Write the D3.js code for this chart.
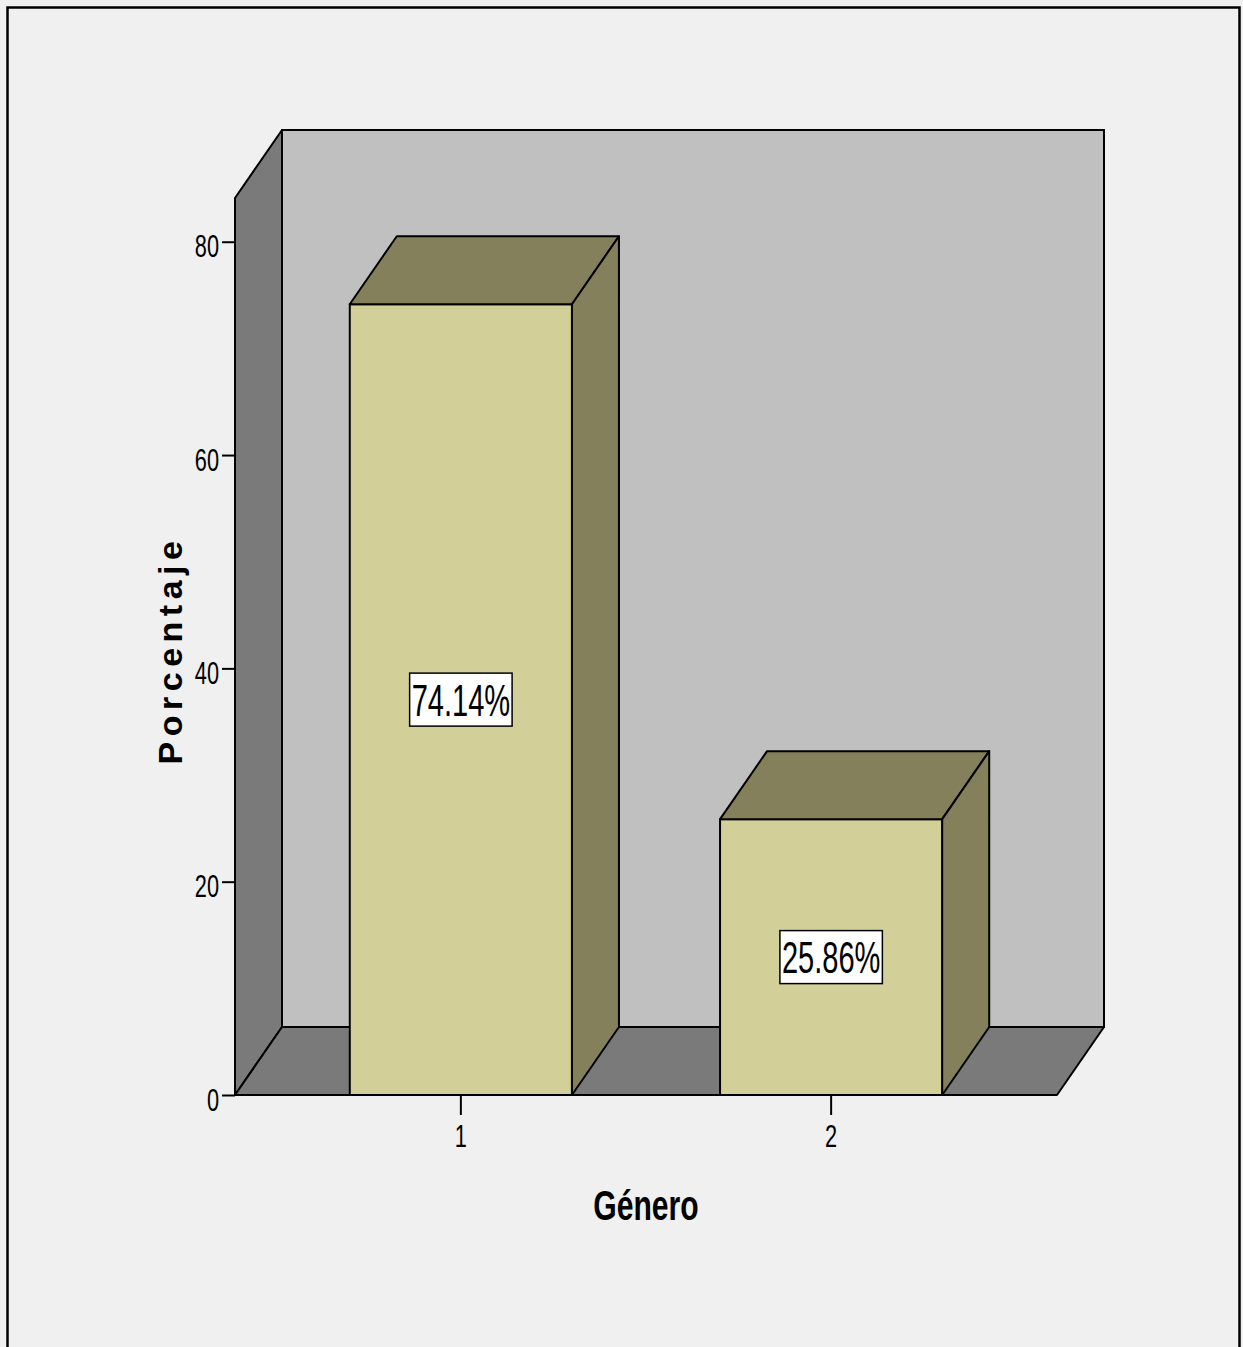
<!DOCTYPE html>
<html>
<head>
<meta charset="utf-8">
<script src="https://cdn.jsdelivr.net/npm/d3@7"></script>
<style>
  html, body { margin: 0; padding: 0; background: #f0f0f0; }
  svg { display: block; }
</style>
</head>
<body>
<svg id="chart"></svg>
<script>
// chart data
var categories = ["1", "2"];
var values = [74.14, 25.86];
var valueLabels = ["74.14%", "25.86%"];
var yTicks = [0, 20, 40, 60, 80];
var xTitle = "Género";
var yTitle = "Porcentaje";

var width = 1243, height = 1347;
var plotLeft = 235, plotRight = 1057, plotBottom = 1095, plotTop = 198;
var dx = 47, dy = 68; // 3d depth
var squeeze = 0.68;   // condensed look of the SPSS text
var narrow = "'Liberation Sans', Arial, sans-serif";

var svg = d3.select("#chart")
    .attr("width", width)
    .attr("height", height);

svg.append("rect")
    .attr("width", width).attr("height", height)
    .attr("fill", "#f0f0f0");

// outer frame (no bottom edge visible)
svg.append("path")
    .attr("d", "M7.5," + height + "V7.5H1239.5V" + height)
    .attr("fill", "none")
    .attr("stroke", "#000")
    .attr("stroke-width", 2.5);

var x = d3.scaleBand()
    .domain(categories)
    .range([plotLeft, plotRight])
    .paddingInner(0.4)
    .paddingOuter(0.31);

var y = d3.scaleLinear()
    .domain([0, 84.1])
    .range([plotBottom, plotTop]);

var y0 = y(0), yMax = y(84.1);

// walls
svg.append("rect")
    .attr("x", plotLeft + dx).attr("y", yMax - dy)
    .attr("width", plotRight - plotLeft).attr("height", y0 - yMax)
    .attr("fill", "#c0c0c0")
    .attr("stroke", "#000").attr("stroke-width", 2);

var poly = d3.line();

svg.append("path")
    .attr("d", poly([[plotLeft, y0], [plotLeft, yMax], [plotLeft + dx, yMax - dy], [plotLeft + dx, y0 - dy]]) + "Z")
    .attr("fill", "#7a7a7a")
    .attr("stroke", "#000").attr("stroke-width", 2).attr("stroke-linejoin", "round");

svg.append("path")
    .attr("d", poly([[plotLeft, y0], [plotLeft + dx, y0 - dy], [plotRight + dx, y0 - dy], [plotRight, y0]]) + "Z")
    .attr("fill", "#7a7a7a")
    .attr("stroke", "#000").attr("stroke-width", 2).attr("stroke-linejoin", "round");

// bars
var bw = x.bandwidth();
var bars = svg.append("g").selectAll("g")
    .data(values)
    .join("g");

bars.append("rect")
    .attr("x", (d, i) => x(categories[i]))
    .attr("y", d => y(d))
    .attr("width", bw)
    .attr("height", d => y0 - y(d))
    .attr("fill", "#d3cf98")
    .attr("stroke", "#000").attr("stroke-width", 2);

bars.append("path")
    .attr("d", (d, i) => {
        var bx = x(categories[i]), by = y(d);
        return poly([[bx, by], [bx + dx, by - dy], [bx + bw + dx, by - dy], [bx + bw, by]]) + "Z";
    })
    .attr("fill", "#85805c")
    .attr("stroke", "#000").attr("stroke-width", 2).attr("stroke-linejoin", "round");

bars.append("path")
    .attr("d", (d, i) => {
        var bx = x(categories[i]) + bw, by = y(d);
        return poly([[bx, by], [bx + dx, by - dy], [bx + dx, y0 - dy], [bx, y0]]) + "Z";
    })
    .attr("fill", "#85805c")
    .attr("stroke", "#000").attr("stroke-width", 2).attr("stroke-linejoin", "round");

// value labels
bars.each(function (d, i) {
    var g = d3.select(this);
    var cx = x(categories[i]) + bw / 2, cy = y(d / 2);
    var box = g.append("rect")
        .attr("fill", "#fff")
        .attr("stroke", "#000").attr("stroke-width", 1.5);
    var t = g.append("text")
        .attr("transform", "translate(" + cx + "," + (cy + 16) + ") scale(0.66,1)")
        .attr("text-anchor", "middle")
        .attr("font-family", narrow)
        .attr("font-size", 44)
        .attr("fill", "#000")
        .text(valueLabels[i]);
    var w = t.node().getBBox().width * 0.66 + 4;
    box.attr("x", cx - w / 2).attr("y", cy - 26.5)
        .attr("width", w).attr("height", 53);
});

// y axis
svg.append("g")
    .attr("transform", "translate(" + plotLeft + ",0)")
    .call(d3.axisLeft(y).tickValues(yTicks).tickSize(13).tickPadding(3).tickFormat(d3.format("d")))
    .call(g => g.select(".domain").remove())
    .call(g => g.selectAll(".tick line").attr("stroke", "#000").attr("stroke-width", 2))
    .call(g => g.selectAll(".tick text")
        .attr("x", 0).attr("dy", null)
        .attr("transform", "translate(-16,15) scale(" + squeeze + ",1)")
        .attr("font-family", narrow)
        .attr("font-size", 32)
        .attr("fill", "#000"));

// x axis
svg.append("g")
    .attr("transform", "translate(0," + y0 + ")")
    .call(d3.axisBottom(x).tickSize(20).tickPadding(0))
    .call(g => g.select(".domain").remove())
    .call(g => g.selectAll(".tick line").attr("stroke", "#000").attr("stroke-width", 2))
    .call(g => g.selectAll(".tick text")
        .attr("y", 0).attr("dy", null)
        .attr("transform", "translate(0,52) scale(" + squeeze + ",1)")
        .attr("font-family", narrow)
        .attr("font-size", 32)
        .attr("fill", "#000"));

// axis titles
svg.append("text")
    .attr("transform", "translate(646,1220) scale(0.7,1)")
    .attr("text-anchor", "middle")
    .attr("font-family", narrow)
    .attr("font-weight", "bold")
    .attr("font-size", 43)
    .attr("fill", "#000")
    .text(xTitle);

svg.append("text")
    .attr("transform", "translate(182,650) rotate(-90)")
    .attr("text-anchor", "middle")
    .attr("font-family", narrow)
    .attr("font-weight", "bold")
    .attr("font-size", 34)
    .attr("letter-spacing", 5.5)
    .attr("fill", "#000")
    .text(yTitle);
</script>
</body>
</html>
